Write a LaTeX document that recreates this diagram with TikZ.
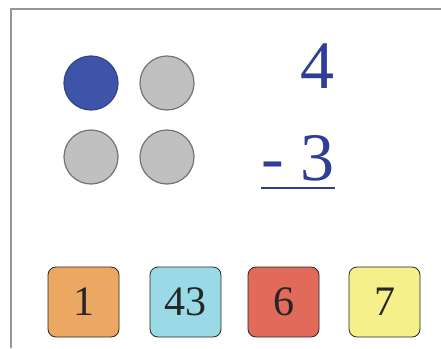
\documentclass[tikz,border=0pt]{standalone}
\usepackage{fontspec}
\setmainfont{Liberation Serif}
\usepackage{tikz}
\usetikzlibrary{positioning}
\definecolor{frameg}{RGB}{150,150,150}
\definecolor{dotblue}{RGB}{62,84,168}
\definecolor{dotgray}{RGB}{192,192,192}
\definecolor{numblue}{RGB}{46,62,152}
\definecolor{boxorange}{RGB}{236,168,98}
\definecolor{boxcyan}{RGB}{154,218,230}
\definecolor{boxred}{RGB}{226,106,90}
\definecolor{boxyellow}{RGB}{245,240,138}

\begin{document}
\begin{tikzpicture}[x=1pt,y=-1pt,
  dot/.style={circle,minimum size=54pt,inner sep=0pt,line width=1.2pt,draw=dotgray!60!black,fill=dotgray},
  bignum/.style={inner sep=0pt,text=numblue,font=\fontsize{68}{80}\selectfont},
  numbox/.style={draw=black!85,line width=0.8pt,rounded corners=8pt,minimum width=71pt,minimum height=70pt,inner sep=0pt,text=black!85,font=\fontsize{42}{50}\selectfont}]
\useasboundingbox (0,0) rectangle (441,348);
% frame
\draw[frameg,line width=1.5pt] (11,348) -- (11,9) -- (441,9);

% counters
\node[dot,fill=dotblue,draw=dotblue!80!black] (d1) at (91,83) {};
\node[dot] (d2) at (167,83) {};
\node[dot] (d3) at (91,157) {};
\node[dot] (d4) at (167,157) {};

% subtraction
\node[bignum,anchor=base west] (sub) at (261,180) {- 3};
\node[bignum,anchor=base east] (top) at ([yshift=92pt]sub.base east) {4};
\draw[numblue,line width=2pt] ([yshift=-8pt]sub.base west) -- ([yshift=-8pt]sub.base east);

% answer choices
\node[numbox,fill=boxorange] (a1) at (83.5,302) {1};
\node[numbox,fill=boxcyan] (a2) at (185.5,302) {43};
\node[numbox,fill=boxred] (a3) at (283.5,302) {6};
\node[numbox,fill=boxyellow] (a4) at (384.5,302) {7};
\end{tikzpicture}
\end{document}
